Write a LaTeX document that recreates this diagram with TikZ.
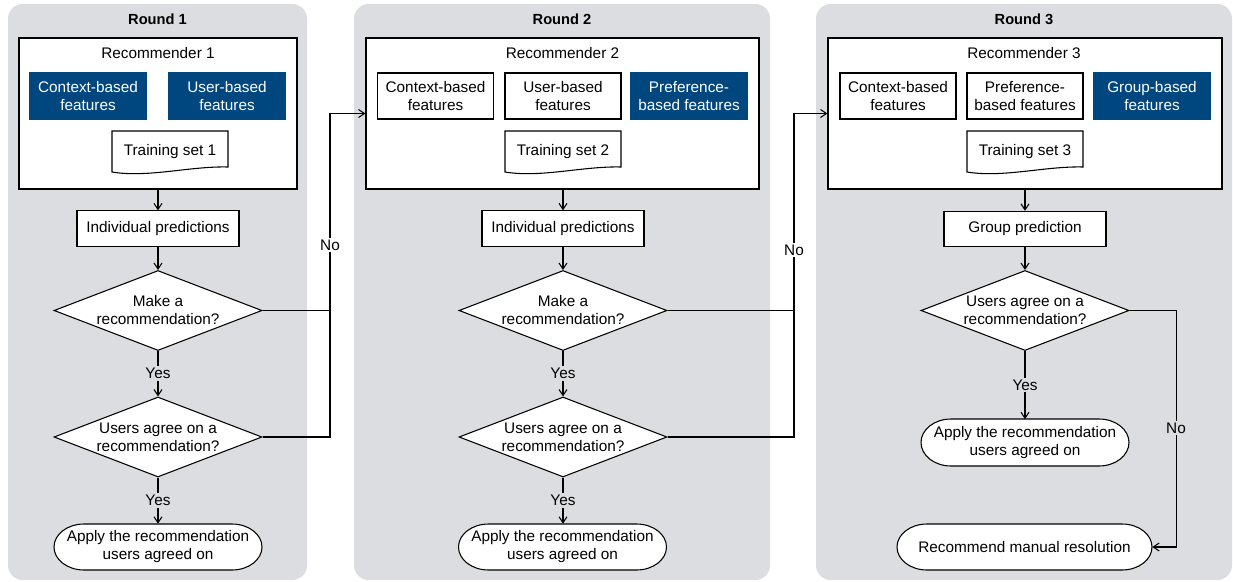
\documentclass[tikz,border=0pt]{standalone}
\usepackage{fontspec}
\setmainfont{Liberation Sans}
\usetikzlibrary{arrows.meta,shapes.geometric,calc}
\definecolor{panelgray}{HTML}{DCDDE0}
\definecolor{featblue}{HTML}{00467F}
\newcommand\docshape[1]{%
  \draw[line width=0.8pt, fill=white] (#1-58,131) -- (#1+58,131) -- (#1+58,167)
    .. controls (#1+20,166) and (#1-22,178) .. (#1-58,172) -- cycle;}
\newcommand\termshape[4]{%
  \draw[line width=0.8pt, fill=white] (#1-#3+30,#2-#4) -- (#1+#3-30,#2-#4)
    arc[start angle=90,end angle=-90,x radius=22.5pt,y radius=#4*0.75pt]
    -- (#1-#3+30,#2+#4)
    arc[start angle=270,end angle=90,x radius=22.5pt,y radius=#4*0.75pt] -- cycle;}
\begin{document}
\begin{tikzpicture}[x=0.75pt,y=-0.75pt,
  font=\fontsize{11.5}{13.5}\selectfont,
  box/.style={draw, fill=white, line width=0.8pt, inner sep=0pt, align=center},
  feat/.style={box, minimum width=87pt, minimum height=34.5pt},
  featb/.style={feat, draw=featblue, fill=featblue, text=white},
  recbox/.style={box, minimum height=113.25pt},
  predbox/.style={box, minimum width=121.5pt, minimum height=26.5pt},
  dia/.style={diamond, draw, fill=white, line width=0.8pt, inner sep=0pt,
    minimum width=156pt, minimum height=60pt},
  term/.style={inner sep=0pt, align=center, minimum width=156pt, minimum height=34.5pt},
  line/.style={line width=0.8pt},
  arr/.style={line, -{Straight Barb[length=4.5pt,width=6pt]}},
  lbl/.style={fill=panelgray, inner sep=1.5pt},
  lblw/.style={fill=white, inner sep=1.5pt},
  title/.style={font=\fontsize{11}{13}\selectfont\bfseries}]
\useasboundingbox (0,0) rectangle (1233,582);
% panels
\fill[panelgray, rounded corners=11pt] (8,4) rectangle (307,580);
\fill[panelgray, rounded corners=11pt] (354,4) rectangle (770,580);
\fill[panelgray, rounded corners=11pt] (816,4) rectangle (1232,580);
\node[title] (round1) at (157.5,19) {Round 1};
\node[title] (round2) at (562,19) {Round 2};
\node[title] (round3) at (1024,19) {Round 3};

% ---------- Round 1
\node[recbox, minimum width=208.5pt] (rec1) at (158,113.5) {};
\node (rec1t) at (158,53) {Recommender 1};
\node[featb] (ctx1) at (88,96) {Context-based\\features};
\node[featb] (usr1) at (227,96) {User-based\\features};
\docshape{170}
\node (ts1) at (170,152) {Training set 1};
\node[predbox] (ind1) at (158,228.5) {Individual predictions};
\node[dia, label={[align=center]center:Make a\\recommendation?}] (d1a) at (158,310.5) {};
\node[dia, label={[align=center]center:Users agree on a\\recommendation?}] (d1b) at (158,437) {};
\termshape{158}{547}{104}{23}
\node[term] (t1) at (158,547) {Apply the recommendation\\users agreed on};
\draw[arr] (rec1.south) -- (ind1.north);
\draw[arr] (ind1.south) -- (d1a.north);
\draw[arr] (d1a.south) -- node[lbl] {Yes} (d1b.north);
\draw[arr] (d1b.south) -- node[lbl] {Yes} (t1.north);

% ---------- Round 2
\node[recbox, minimum width=294.75pt] (rec2) at (562.5,113.5) {};
\node (rec2t) at (562.5,53) {Recommender 2};
\node[feat] (ctx2) at (435.5,96) {Context-based\\features};
\node[feat] (usr2) at (563,96) {User-based\\features};
\node[featb] (pref2) at (689,96) {Preference-\\based features};
\docshape{563}
\node (ts2) at (563,152) {Training set 2};
\node[predbox] (ind2) at (563,228.5) {Individual predictions};
\node[dia, label={[align=center]center:Make a\\recommendation?}] (d2a) at (563,310.5) {};
\node[dia, label={[align=center]center:Users agree on a\\recommendation?}] (d2b) at (563,437) {};
\termshape{562.5}{547}{104}{23}
\node[term] (t2) at (562.5,547) {Apply the recommendation\\users agreed on};
\draw[arr] (ind2.north |- rec2.south) -- (ind2.north);
\draw[arr] (ind2.south) -- (d2a.north);
\draw[arr] (d2a.south) -- node[lbl] {Yes} (d2b.north);
\draw[arr] (d2b.south) -- node[lbl] {Yes} (d2b.south |- t2.north);

% ---------- Round 3
\node[recbox, minimum width=295.5pt] (rec3) at (1025,113.5) {};
\node (rec3t) at (1024,53) {Recommender 3};
\node[feat] (ctx3) at (898,96) {Context-based\\features};
\node[feat] (pref3) at (1025,96) {Preference-\\based features};
\node[featb] (grp3) at (1152,96) {Group-based\\features};
\docshape{1025}
\node (ts3) at (1025,152) {Training set 3};
\node[predbox] (grp3p) at (1025,229) {Group prediction};
\node[dia, label={[align=center]center:Users agree on a\\recommendation?}] (d3) at (1025,310.5) {};
\termshape{1025}{442.5}{104}{23.5}
\node[term] (t3a) at (1025,442.5) {Apply the recommendation\\users agreed on};
\termshape{1024.5}{547}{127.5}{23}
\node[term, minimum width=191.25pt] (t3b) at (1024.5,547) {Recommend manual resolution};
\draw[arr] (rec3.south) -- (grp3p.north);
\draw[arr] (grp3p.south) -- (d3.north);
\draw[arr] (d3.south) -- node[lbl] {Yes} (t3a.north);
\draw[arr] (d3.east) -| ($(t3b.east)+(24,0)$) -- (t3b.east);
\node[lbl] (no3) at (1176,428) {No};

% ---------- No connectors between rounds
\coordinate (no1x) at (330,0);
\coordinate (no2x) at (794,0);
\draw[line] (d1a.east) -- (d1a.east -| no1x);
\draw[arr] (d1b.east) -| (no1x |- rec2.west) -- (rec2.west);
\node[lblw] (no1) at (330,245) {No};
\draw[line] (d2a.east) -- (d2a.east -| no2x);
\draw[arr] (d2b.east) -| (no2x |- rec3.west) -- (rec3.west);
\node[lblw] (no2) at (794,250) {No};
\end{tikzpicture}
\end{document}
